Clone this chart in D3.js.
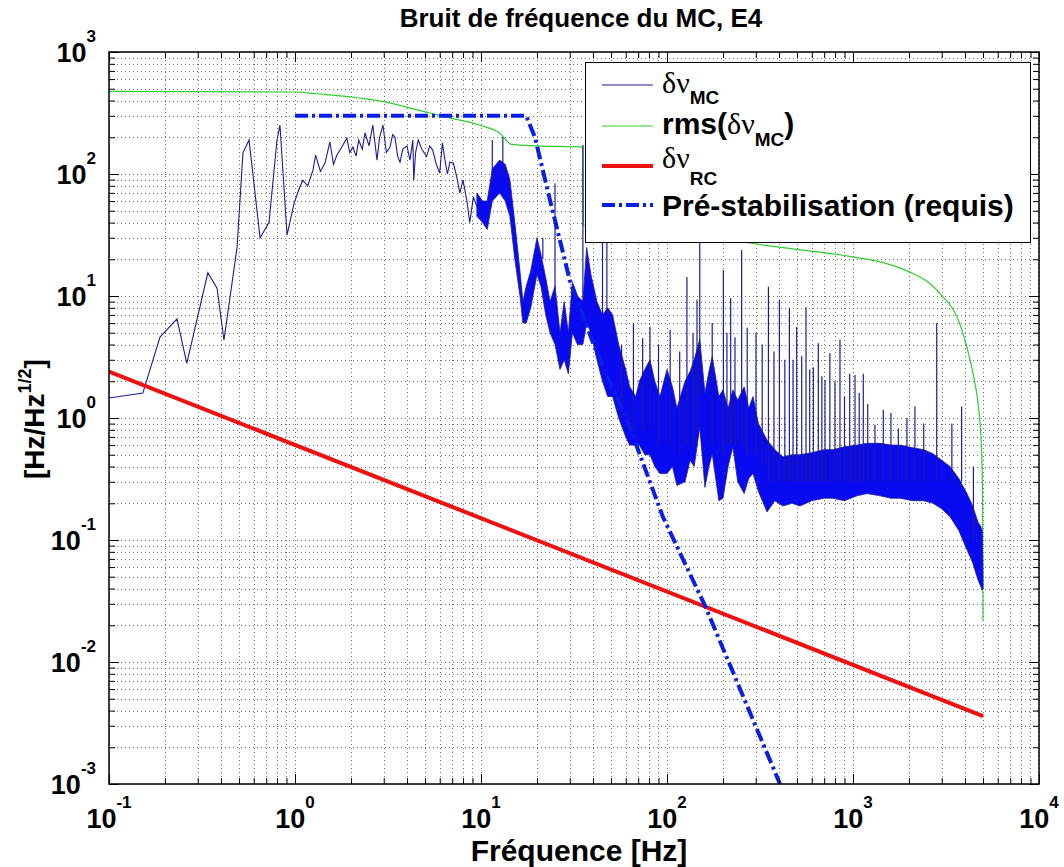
<!DOCTYPE html>
<html><head><meta charset="utf-8">
<script src="https://cdn.jsdelivr.net/npm/d3@7"></script>
<style>
body{margin:0;background:#fff;}
svg{display:block;}
text{font-family:"Liberation Sans",Arial,sans-serif;font-weight:bold;fill:#000;}
</style></head>
<body><svg id="c" width="1064" height="867"></svg>
<script>
// ---------- data ----------
const xTickExp = [-1,0,1,2,3,4];
const yTickExp = [-3,-2,-1,0,1,2,3];

// δν_MC, clean low-frequency part (Hz, Hz/√Hz)
const mcFreq = [0.1,0.152,0.188,0.232,0.262,0.34,0.381,0.415,0.488,0.525,0.566,0.649,0.725,0.8,0.83,0.906,0.99,1.05,1.1,1.17,1.25,1.29,1.37,1.45,1.54,1.61,1.68,1.78,1.9,1.97,2.05,2.13,2.2,2.3,2.38,2.5,2.62,2.76,2.85,2.97,3.1,3.24,3.35,3.45,3.56,3.67,3.8,4.0,4.15,4.3,4.35,4.45,4.6,4.8,5.1,5.3,5.5,5.75,6.0,6.2,6.4,6.6,6.8,7.1,7.4,7.7,8.0,8.4,8.7,9.1,9.5];
const mcVal  = [1.46,1.6,4.6,6.5,2.8,15.5,11.6,4.35,25,149,190,30,40,190,252,31.6,58,75,89,80,108,143,105,123,183,120,143,165,197,150,166,140,190,160,217,170,252,130,200,252,150,166,210,200,140,125,160,170,130,190,89,150,190,160,139,170,157,120,102,180,130,100,125,123,95,70,89,60,40,65,54];

// δν_MC, dense part: envelope of the noise band
const bandFreq = [9.5,10.2,10.8,11.5,12.6,13.5,14.3,15.2,16.2,16.8,17.5,18.5,20,21,22.3,23.5,25,26.6,28,29.5,31,33,35.3,37,39,42,45,48,51,55,60,63,68,71,76,81,86,91.6,100,107,113,125,133,140,150,160,168,175,190,200,213,226,240,260,275,290,310,345,380,420,470,519,600,700,780,900,1050,1190,1400,1600,1790,2100,2400,2690,3000,3325,3700,4100,4400,4700,4850,4950,5000];
const bandLow  = [45,40,35,60,70,60,45,20,10,6,6,8,15,12,7,5,4,2.5,3,2.3,5,4,4,6,5,3,2,1.5,1.5,1,0.7,0.6,0.6,0.6,0.5,0.5,0.4,0.35,0.35,0.4,0.28,0.3,0.45,0.4,0.84,0.27,0.4,0.51,0.21,0.22,0.4,0.58,0.3,0.24,0.32,0.35,0.25,0.17,0.21,0.19,0.2,0.19,0.21,0.22,0.22,0.21,0.23,0.24,0.23,0.22,0.22,0.21,0.21,0.2,0.18,0.155,0.12,0.083,0.065,0.047,0.042,0.039,0.04];
const bandHigh = [70,60,60,110,130,120,90,40,16,9,12,16,30,22,14,9,12,5,9,5,13,10,9,25,15,9,7,8,7,4,2.5,1.8,1.5,2,2.5,3,2,1.5,2.5,1.8,1.2,2,2.4,3,4.4,1.6,2.4,3.2,1.5,1.7,1.2,1.7,1.4,1.8,1.2,1.5,0.9,0.66,0.55,0.48,0.5,0.5,0.52,0.55,0.55,0.58,0.6,0.62,0.62,0.6,0.6,0.57,0.55,0.51,0.45,0.4,0.32,0.24,0.19,0.14,0.13,0.12,0.05];

// δν_MC, narrow spikes (Hz, top value, base value)
const spikeFreq = [11.5,13.1,21.5,25,35.3,45,47.5,57,66,74,81,90,104,117,128,138,145,150,175,201,210,220,232,252,270,301,325,351,376,402,430,455,476,498,530,559,585,612,651,680,707,751,800,851,900,960,1025,1080,1136,1200,1313,1455,1600,1753,1950,2153,2400,2820,3400,3837,4440];
const spikeTop  = [190,201,30,84,173,30,51,4,6,4.5,5.6,4,5.3,3.5,14.3,5,9.3,60,6,16.3,5,9.6,4.6,23.8,5.5,5.0,4,11.9,3.5,9.3,3,8.0,3,5.6,3.2,8.1,2.5,2.6,4.1,2.2,2.05,3.4,2,4.4,1.5,2.3,2.25,1.6,2.3,1.3,0.88,1.17,1.1,0.82,1.0,1.24,0.9,6.0,0.9,1.24,0.4];
const spikeBase = [90,100,20,10,9,7,7,1,0.8,0.8,0.8,0.6,0.6,0.5,0.6,0.6,0.8,1.5,0.6,0.5,0.6,0.6,0.6,0.6,0.5,0.5,0.4,0.3,0.3,0.3,0.3,0.3,0.3,0.3,0.3,0.3,0.3,0.3,0.3,0.3,0.3,0.3,0.3,0.3,0.3,0.3,0.3,0.3,0.3,0.3,0.3,0.3,0.3,0.3,0.3,0.3,0.3,0.3,0.3,0.3,0.1];

// rms(δν_MC)
const rmsFreq = [0.1,1,1.3,2.85,5.3,6.8,9.8,12.6,14.6,20,35.3,35.6,60,150,279,1000,1500,2023,2500,3050,3500,3800,4100,4450,4650,4820,4900,4950,4980,5000];
const rmsVal  = [475,470,455,397,316,288,252,217,175,170,166,38,35,32.8,27.2,20.9,18.5,15.7,13.2,9.8,7.5,5.6,3.8,2.2,1.5,0.91,0.6,0.35,0.15,0.022];

// δν_RC
const rcFreq = [0.1,5000];
const rcVal  = [2.4,0.0036];

// Pré-stabilisation (requis)
const preFreq = [1,17.5,19.5,23.5,30,42,61,95,160,405];
const preVal  = [300,300,200,61,13.5,3.4,0.96,0.155,0.029,0.001];

// ---------- drawing ----------
const svg = d3.select("#c");
const L=109,R=1039,T=52,B=784;
const x = d3.scaleLog().domain([0.1,1e4]).range([L,R]);
const y = d3.scaleLog().domain([1e-3,1e3]).range([B,T]);

svg.append("rect").attr("x",L).attr("y",T).attr("width",R-L).attr("height",B-T).attr("fill","#fff");

// grid (major + minor, dotted)
const xMinor=[], yMinor=[];
for(let e=-1;e<4;e++) for(let m=1;m<=9;m++) xMinor.push(m*Math.pow(10,e));
xMinor.push(1e4);
for(let e=-3;e<3;e++) for(let m=1;m<=9;m++) yMinor.push(m*Math.pow(10,e));
yMinor.push(1e3);
const grid = svg.append("g").attr("stroke","#707070").attr("stroke-width",1).attr("stroke-dasharray","1,3");
grid.selectAll(".gx").data(xMinor).join("line").attr("x1",d=>Math.round(x(d))+0.5).attr("x2",d=>Math.round(x(d))+0.5).attr("y1",T).attr("y2",B);
grid.selectAll(".gy").data(yMinor).join("line").attr("y1",d=>Math.round(y(d))+0.5).attr("y2",d=>Math.round(y(d))+0.5).attr("x1",L).attr("x2",R);

svg.append("clipPath").attr("id","pc").append("rect").attr("x",L).attr("y",T).attr("width",R-L).attr("height",B-T);
const plot = svg.append("g").attr("clip-path","url(#pc)");

// rms
plot.append("path").datum(rmsFreq.map((f,i)=>[f,rmsVal[i]]))
  .attr("d",d3.line().curve(d3.curveMonotoneX).x(d=>x(d[0])).y(d=>y(d[1])))
  .attr("fill","none").attr("stroke","#2fd02f").attr("stroke-width",1.2);

// δν_MC band
const bandData = bandFreq.map((f,i)=>[f,bandLow[i],bandHigh[i]]);
plot.append("path").datum(bandData)
  .attr("d",d3.area().x(d=>x(d[0])).y0(d=>y(d[1])).y1(d=>y(d[2])))
  .attr("fill","#0a0af0").attr("stroke","#1c1c98").attr("stroke-width",0.8);
// δν_MC low part
plot.append("path").datum(mcFreq.map((f,i)=>[f,mcVal[i]]))
  .attr("d",d3.line().x(d=>x(d[0])).y(d=>y(d[1])))
  .attr("fill","none").attr("stroke","#1c1c98").attr("stroke-width",1.1);
// spikes
plot.append("g").selectAll("line").data(spikeFreq.map((f,i)=>[f,spikeTop[i],spikeBase[i]])).join("line")
  .attr("x1",d=>x(d[0])).attr("x2",d=>x(d[0])).attr("y1",d=>y(d[1])).attr("y2",d=>y(d[2]))
  .attr("stroke","#1c1c98").attr("stroke-width",1.2);

// δν_RC
plot.append("path").datum(rcFreq.map((f,i)=>[f,rcVal[i]]))
  .attr("d",d3.line().x(d=>x(d[0])).y(d=>y(d[1])))
  .attr("fill","none").attr("stroke","#ee1111").attr("stroke-width",4);

// pre-stabilisation
plot.append("path").datum(preFreq.map((f,i)=>[f,preVal[i]]))
  .attr("d",d3.line().x(d=>x(d[0])).y(d=>y(d[1])))
  .attr("fill","none").attr("stroke","#0a1ee6").attr("stroke-width",4).attr("stroke-dasharray","13,4,3,4");

// ticks inside on all four sides
const xMajor = xTickExp.map(e=>Math.pow(10,e));
const yMajor = yTickExp.map(e=>Math.pow(10,e));
function tickG(axisFn, scale, vals, len, tr){
  const g = svg.append("g").attr("transform",tr).call(axisFn(scale).tickValues(vals).tickSize(-len).tickFormat(""));
  g.select(".domain").remove();
  g.selectAll("line").attr("stroke","#000").attr("stroke-width",1);
}
tickG(d3.axisBottom,x,xMinor,6,`translate(0,${B})`);
tickG(d3.axisBottom,x,xMajor,10,`translate(0,${B})`);
tickG(d3.axisTop,x,xMinor,6,`translate(0,${T})`);
tickG(d3.axisTop,x,xMajor,10,`translate(0,${T})`);
tickG(d3.axisLeft,y,yMinor,6,`translate(${L},0)`);
tickG(d3.axisLeft,y,yMajor,10,`translate(${L},0)`);
tickG(d3.axisRight,y,yMinor,6,`translate(${R},0)`);
tickG(d3.axisRight,y,yMajor,10,`translate(${R},0)`);

svg.append("rect").attr("x",L).attr("y",T).attr("width",R-L).attr("height",B-T)
  .attr("fill","none").attr("stroke","#000").attr("stroke-width",1.5);

// tick labels
svg.append("g").selectAll("text").data(xTickExp).join("text")
  .attr("x",d=>x(Math.pow(10,d))).attr("y",B+44).attr("text-anchor","middle").attr("font-size",27)
  .each(function(d){
    const t=d3.select(this);
    t.append("tspan").text("10");
    t.append("tspan").attr("dy",-20).attr("font-size",17).text(d);
  });
svg.append("g").selectAll("text").data(yTickExp).join("text")
  .attr("x",96).attr("y",d=>y(Math.pow(10,d))+10).attr("text-anchor","end").attr("font-size",27)
  .each(function(d){
    const t=d3.select(this);
    t.append("tspan").text("10");
    t.append("tspan").attr("dy",-20).attr("font-size",17).text(d);
  });

// titles
svg.append("text").attr("x",581).attr("y",27).attr("text-anchor","middle").attr("font-size",26).text("Bruit de fréquence du MC, E4");
svg.append("text").attr("x",579).attr("y",861).attr("text-anchor","middle").attr("font-size",30).text("Fréquence [Hz]");
const yt = svg.append("text").attr("transform","translate(44,419) rotate(-90)").attr("text-anchor","middle").attr("font-size",28);
yt.append("tspan").text("[Hz/Hz");
yt.append("tspan").attr("dy",-13).attr("font-size",18).text("1/2");
yt.append("tspan").attr("dy",13).text("]");

// legend
const lg = svg.append("g");
lg.append("rect").attr("x",585.5).attr("y",62.5).attr("width",445).attr("height",180).attr("fill","#fff").attr("stroke","#000").attr("stroke-width",1);
const items = [
  {y:85, stroke:"#1c1c98", w:1.2, dash:null},
  {y:126, stroke:"#2fd02f", w:1.2, dash:null},
  {y:166, stroke:"#ee1111", w:4, dash:null},
  {y:205, stroke:"#0a1ee6", w:4, dash:"13,4,3,4"}
];
lg.selectAll("line").data(items).join("line").attr("x1",602).attr("x2",653).attr("y1",d=>d.y).attr("y2",d=>d.y)
  .attr("stroke",d=>d.stroke).attr("stroke-width",d=>d.w).attr("stroke-dasharray",d=>d.dash);
const serif = '"Liberation Serif","Times New Roman",serif';
function greek(t){ t.append("tspan").attr("font-family",serif).attr("font-weight","normal").attr("font-size",30).text("δν"); }
let t1 = lg.append("text").attr("x",662).attr("y",93);
greek(t1); t1.append("tspan").attr("dy",11).attr("font-size",19).text("MC");
let t2 = lg.append("text").attr("x",662).attr("y",134).attr("font-size",30);
t2.append("tspan").text("rms(");
greek(t2); t2.append("tspan").attr("dy",12).attr("font-size",19).text("MC");
t2.append("tspan").attr("dy",-12).text(")");
let t3 = lg.append("text").attr("x",662).attr("y",168);
greek(t3); t3.append("tspan").attr("dy",17).attr("font-size",19).text("RC");
lg.append("text").attr("x",662).attr("y",216).attr("font-size",30).text("Pré-stabilisation (requis)");
</script></body></html>
